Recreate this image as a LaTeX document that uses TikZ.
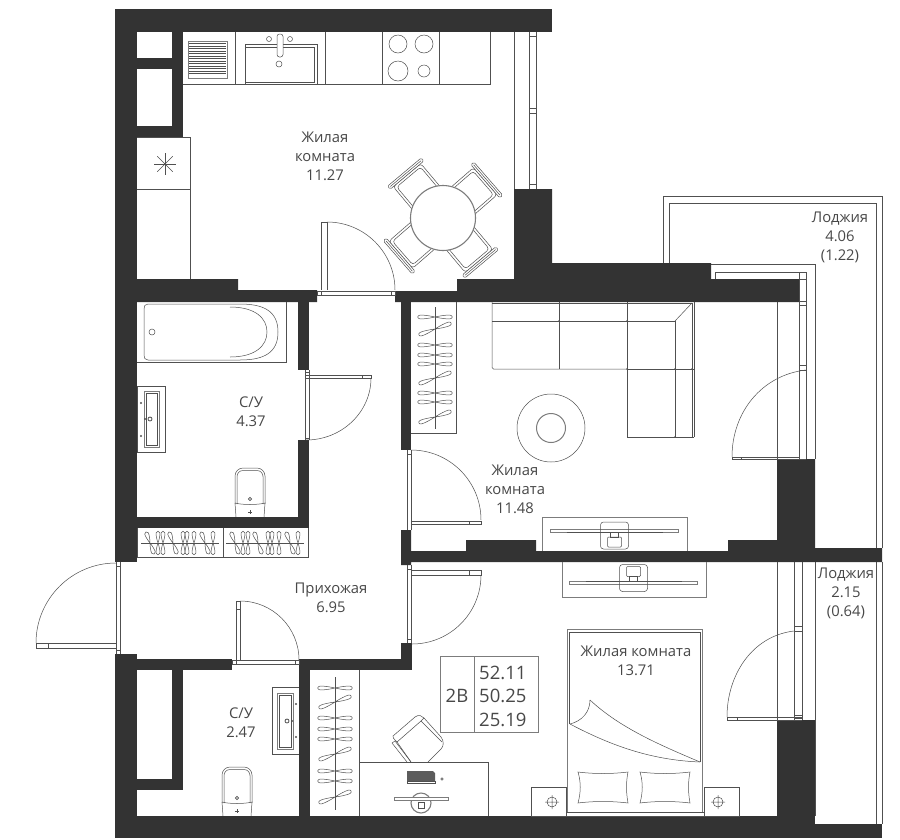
\documentclass[tikz,border=0pt]{standalone}
\usepackage{fontspec}
\setmainfont{Open Sans}
\definecolor{wallc}{HTML}{333333}
\definecolor{linec}{HTML}{505050}
\definecolor{textc}{HTML}{484848}
\tikzset{
  wall/.style={fill=wallc,draw=none},
  thin line/.style={draw=linec,line width=0.5pt},
  soft/.style={draw=linec!75,line width=0.7pt},
  lbl/.style={text=textc,font=\fontsize{14.8}{19}\selectfont,align=center,inner sep=0pt},
  info/.style={text=textc,font=\fontsize{18.5}{23.5}\selectfont,align=left,inner sep=0pt}
}
\newcommand\hgr[4]{%
  \draw[thin line,shift={(#1,#2)},rotate=#3,xscale=#4]
    (0,0) .. controls (-5,-1.2) and (-12,-2.2) .. (-15,-1.9) .. controls (-18,-1.4) and (-18,1.4) .. (-15,1.9) .. controls (-12,2.2) and (-5,1.2) .. (0,0)
    .. controls (5,1.2) and (12,2.2) .. (15,1.9) .. controls (18,1.4) and (18,-1.4) .. (15,-1.9) .. controls (12,-2.2) and (5,-1.2) .. (0,0) -- cycle;}
\newcommand\chairb[1]{%
  \begin{scope}[shift={(443,218)},rotate=#1]
    \draw[thin line,rounded corners=3pt] (22,-18) -- (56,-18) -- (56,18) -- (22,18);
    \draw[thin line,rounded corners=3pt] (22,-15.5) -- (53.5,-15.5) -- (53.5,15.5) -- (22,15.5);
    \draw[thin line,fill=white,rounded corners=1.5pt] (56,-22) rectangle (60,22);
    \draw[thin line] (58,-20) -- (58,20);
  \end{scope}}
\newcommand\toiletb[2]{%
  \begin{scope}[shift={(#1,#2)}]
    \draw[thin line,rounded corners=8pt] (-15,36) -- (-15,0) -- (15,0) -- (15,36);
    \draw[thin line,rounded corners=6pt] (-13,36) -- (-13,2.5) -- (13,2.5) -- (13,36);
    \draw[thin line] (-15,35) .. controls (-8,37) and (8,37) .. (15,35) -- (14,49);
    \draw[thin line] (-15,35) -- (-14,49);
    \draw[thin line,line width=0.8pt] (0,31) circle (1.6);
    \draw[thin line,line width=0.8pt] (-2,44) -- (2,44) (0,42) -- (0,46);
  \end{scope}}
\newcommand\tvb[3]{%
  \begin{scope}[shift={(#1,#2)},yscale=#3]
    \draw[soft,fill=white] (-64,-1.4) rectangle (64,1.4);
    \draw[thin line] (-48,1.4) -- (48,1.4);
    \draw[thin line,rounded corners=3pt] (-14,-9) rectangle (14,18);
    \draw[thin line,rounded corners=1pt] (-7,6) rectangle (7,16);
    \draw[thin line] (-4,1.4) rectangle (4,6);
  \end{scope}}
\newcommand\pillow[2]{%
  \begin{scope}[shift={(#1,#2)}]
    \draw[thin line] (0,0) .. controls (16,2) and (34,2) .. (50,0) .. controls (48,10) and (48,20) .. (50,31) .. controls (34,29) and (16,29) .. (0,31) .. controls (3,20) and (3,10) .. (0,0) -- cycle;
  \end{scope}}
\newcommand\nightt[3]{%
  \draw[thin line] (#1,787) rectangle (#2,816);
  \draw[thin line] (#3,802) circle (5) (#3-7,802) -- (#3+7,802) (#3,795) -- (#3,809);}
\begin{document}
\begin{tikzpicture}[x=1pt,y=-1pt]
\useasboundingbox[fill=white] (0,0) rectangle (900,839);

% ---- loggias (behind walls)
\draw[thin line] (663,263) -- (663,196) -- (882,196) -- (882,548);
\draw[thin line] (669,263) -- (669,203) -- (876,203) -- (876,548);
\draw[thin line] (876,562) -- (876,824) (882,562) -- (882,824);
\draw[thin line] (711,264) -- (815,264) -- (815,459);
\draw[thin line] (715,279) -- (715,272) -- (806,272) -- (806,459);
\draw[thin line] (799,272) -- (799,459);
\draw[thin line] (799,279) -- (806,279) (799,305) -- (806,305) (799,301) -- (806,301) (799,365) -- (806,365) (799,370) -- (806,370);
\draw[thin line] (777,302) -- (777,459);
\draw[thin line] (815,562) -- (815,816);

% ---- walls
\fill[wall] (115,9) rectangle (552,32);
\fill[wall] (115,9) rectangle (137,562);
\fill[wall] (172,32) rectangle (183,137);
\fill[wall] (137,58) rectangle (172,69);
\fill[wall] (137,126) rectangle (183,137);
\fill[wall] (137,279) -- (238,279) -- (238,290) -- (317,290) -- (317,302) -- (137,302) -- cycle;
\fill[wall] (395,291) -- (395,302) -- (799,302) -- (799,279) -- (711,279) -- (711,263) -- (552,263) -- (552,189) -- (514,189) -- (514,279) -- (457,279) -- (457,291) -- cycle;
\fill[wall] (401,302) rectangle (411,450);
\fill[wall] (298,302) rectangle (309,370);
\fill[wall] (298,440) rectangle (309,528);
\fill[wall] (137,517) rectangle (309,528);
\fill[wall] (401,530) -- (411,530) -- (411,551) -- (466,551) -- (466,540) -- (536,540) -- (536,551) -- (728,551) -- (728,540) -- (777,540) -- (777,459) -- (815,459) -- (815,548) -- (882,548) -- (882,562) -- (411,562) -- (411,565) -- (401,565) -- cycle;
\fill[wall] (115,654) rectangle (137,838);
\fill[wall] (137,659) rectangle (232,670);
\fill[wall] (172,670) rectangle (183,790);
\fill[wall] (137,779) rectangle (183,790);
\fill[wall] (299,659) rectangle (412,670);
\fill[wall] (401,643) rectangle (412,670);
\fill[wall] (299,670) rectangle (310,816);
\fill[wall] (115,816) rectangle (815,838);
\fill[wall] (815,824) rectangle (882,838);
\fill[wall] (777,720) rectangle (815,816);

% ---- kitchen counter
\draw[thin line] (183,84.3) -- (490,84.3) -- (490,32);
\draw[thin line] (235,32) -- (235,84.3) (325,32) -- (325,84.3) (382,32) -- (382,84.3) (439,32) -- (439,84.3);
\draw[soft] (188,41) rectangle (227,78);
\foreach \yy in {43.5,46,...,73.5} \draw[thin line] (189,\yy) -- (226,\yy);
\draw[thin line] (245,84.3) -- (245,44) -- (317,44) -- (317,84.3);
\draw[thin line] (245,47) -- (314,47) -- (314,82) -- (245,82);
\draw[thin line,fill=white,rounded corners=2.5pt] (277,34) rectangle (283,57);
\draw[thin line] (269,39) circle (2.5) (290,39) circle (2.5) (279,64) circle (3);
\draw[thin line] (398,44) circle (9) (424,44) circle (9) (398,71) circle (10) (424,71) circle (6);
% kitchen window
\draw[thin line] (514,32) -- (514,189) (529,32) -- (529,189) (536,32) -- (536,189);
\draw[thin line] (529,36) -- (536,36) (529,108) -- (536,108) (529,113) -- (536,113) (529,184) -- (536,184);
% tall cupboard
\draw[thin line] (137,137) -- (190,137) -- (190,279) (137,189) -- (190,189);
\foreach \aa in {0,45,...,315} \draw[thin line] (165,164) -- ++(\aa:11);
\fill[linec] (165,164) circle (1.2);
% kitchen door
\draw[thin line] (321,290) -- (321,222) -- (327,222) -- (327,290);
\draw[thin line] (327,222) arc[start angle=-90,end angle=0,radius=68];
\draw[thin line] (317,291) rectangle (395,295);
\draw[thin line] (321,291) -- (321,295) (391,291) -- (391,295);
% dining group
\chairb{130}\chairb{41}\chairb{-50}\chairb{-139}
\draw[soft,fill=white,line width=1.1pt] (443,218) circle (32.5);

% ---- bathroom
\draw[thin line] (137,362) -- (286,362) -- (286,302);
\draw[thin line] (148,304) -- (240,304) .. controls (265,304) and (278,312) .. (278,332) .. controls (278,352) and (265,360) .. (240,360) -- (148,360) .. controls (145,360) and (144,358) .. (144,355) -- (144,309) .. controls (144,306) and (145,304) .. (148,304) -- cycle;
\draw[thin line] (230,307) .. controls (255,307) and (267,318) .. (267,332) .. controls (267,346) and (255,357) .. (230,357);
\draw[thin line] (152,332) circle (3);
\draw[thin line] (137,386) rectangle (165,452);
\draw[soft] (144,391) rectangle (159,447);
\draw[thin line] (146,393) rectangle (157,445);
\fill[linec] (141,403) circle (1.2) (141,436) circle (1.2) (145,419) circle (1.2);
\draw[thin line,line width=0.8pt] (150,419) circle (2);
\toiletb{250}{468}
% bathroom door
\draw[thin line] (305,370) -- (305,440) (309,370) -- (309,440) (305,438) -- (309,438) (305,372) -- (309,372);
\draw[thin line] (306,375) -- (371,375) -- (371,378) -- (306,378) (362,375) -- (362,378);
\draw[thin line] (371,378) .. controls (371,412) and (342,440) .. (306,440);
% wardrobes in hall
\draw[thin line] (137,528) -- (137,557) -- (308,557) -- (308,528) (223,528) -- (223,557);
\foreach \dx in {0,85}{
  \foreach \hx/\hr in {150/110,158/90,163/90,173/110,183/90,187/90,194/90,205/110,213/90}
    \hgr{\hx+\dx}{543}{\hr}{0.68};
  \draw[thin line] (141+\dx,543) -- (219+\dx,543);
}

% ---- living room
\draw[thin line] (411,433) -- (456,433) -- (456,302);
\foreach \yy/\rr in {317/0,329/20,345/0,355/0,364/0,378/20,393/0,402/0,417/20} \hgr{435}{\yy}{\rr}{1};
\draw[thin line] (435,307) -- (435,429);
% living door
\draw[thin line] (407,450) -- (407,530) (411,450) -- (411,530) (407,454) -- (411,454);
\draw[thin line] (411,521) -- (481,521) -- (481,524) -- (411,524) (469,521) -- (469,524);
\draw[thin line] (411,450) arc[start angle=-90,end angle=0,radius=70];
% sofa
\draw[thin line,rounded corners=1.5pt] (492,302) -- (492,369) -- (627,369);
\draw[thin line] (492,303) -- (692,303) (492,321) -- (675,321);
\draw[thin line] (559,302) -- (559,369) (627,302) -- (627,437) (675,321) -- (675,437) (692,303) -- (692,437) (694,302) -- (694,437);
\draw[thin line] (627,369) -- (694,369) (627,437) -- (694,437);
\draw[thin line] (675,321) -- (692,303);
\fill[linec] (559,321) circle (0.9) (627,321) circle (0.9) (627,369) circle (0.9) (675,369) circle (0.9) (675,437) circle (0.9) (692,369) circle (0.9);
% rug
\draw[thin line] (551,428) circle (34);
\draw[soft,line width=1pt] (551,428) circle (14.5);
% living TV
\draw[soft] (542,551) -- (542,517) -- (687,517) -- (687,551);
\tvb{614.5}{531}{1}
% balcony door (living)
\draw[thin line] (732,457) -- (799,457) (732,459) -- (806,459) (732,457) -- (732,459) (741,457) -- (741,459);
\draw[thin line] (732,457) .. controls (732,412) and (762,375) .. (806,370);

% ---- hall
\draw[thin line] (116,562) -- (116,654) (120,562) -- (120,654) (116,566) -- (120,566) (116,650) -- (120,650);
\draw[thin line] (36,643) rectangle (116,648) (48,643) -- (48,648);
\draw[thin line] (36,643) arc[start angle=180,end angle=270,radius=80];
\draw[thin line] (407,565) -- (407,643) (411,565) -- (411,643) (407,639) -- (411,639) (407,569) -- (411,569);
\draw[thin line] (411,570) -- (481,570) -- (481,575) -- (411,575) (469,570) -- (469,575);
\draw[thin line] (481,575) arc[start angle=0,end angle=90,radius=69];
% door to small bath
\draw[thin line] (236,660) -- (236,601) -- (240,601) -- (240,660) (236,609) -- (240,609);
\draw[thin line] (240,601) arc[start angle=-90,end angle=0,radius=59];
\draw[thin line] (232,660) rectangle (299,664) (236,660) -- (236,664) (295,660) -- (295,664);

% ---- small bath
\draw[thin line] (299,687) -- (272,687) -- (272,754) -- (299,754);
\draw[soft] (277,693) rectangle (293,749);
\draw[thin line] (279,695) rectangle (291,747);
\fill[linec] (296,704) circle (1.2) (296,737) circle (1.2) (292,721) circle (1.2);
\draw[thin line,line width=0.8pt] (287,721) circle (2);
\toiletb{237}{767}

% ---- bedroom
\draw[thin line] (359,670) -- (359,816);
\foreach \yy/\rr in {688/0,702/20,718/0,729/0,739/0,754/20,771/0,781/0,797/20} \hgr{335}{\yy}{\rr}{1};
\draw[thin line] (335,677) -- (335,810);
% info table
\draw[soft] (440,656) rectangle (538,732) (474,656) -- (474,732);
% desk
\draw[thin line] (359,762) -- (488,762) -- (488,816);
\draw[thin line] (411,762) -- (397,742) .. controls (394,739) and (392,737) .. (393,736) -- (415,717) .. controls (419,714) and (422,716) .. (424,718) -- (441,737) .. controls (444,741) and (444,746) .. (441,749) -- (428,762);
\draw[thin line] (397,742) -- (421,721) -- (424,718);
\draw[thin line] (421,721) -- (442,742);
\draw[thin line] (392,743) -- (395,741) -- (411,762) (392,743) -- (407,762);
\fill[wallc!80] (407,771) -- (433,771) -- (435,773) -- (435,781) -- (407,781) -- cycle;
\draw[thin line] (407,781) rectangle (435,783);
\draw[thin line] (442,779) circle (1.3);
\draw[soft,line width=1.1pt] (421,803) circle (10);
\draw[soft,fill=white] (394,797) rectangle (448,800);
\draw[thin line] (418,802) rectangle (424,808);
% bedroom TV
\draw[soft] (562,562) -- (562,597) -- (706,597) -- (706,562);
\tvb{633.5}{582.5}{-1}
% balcony door (bedroom)
\draw[thin line] (777,562) -- (777,720) (794,562) -- (794,720) (802,562) -- (802,720);
\draw[thin line] (794,626) -- (802,626) (794,631) -- (802,631) (794,715) -- (802,715) (794,718) -- (802,718);
\draw[thin line] (727,717) -- (802,717) (727,720) -- (802,720) (727,717) -- (727,720) (737,717) -- (737,720);
\draw[thin line] (727,717) .. controls (727,675) and (752,636) .. (794,631);
% bed
\draw[soft] (567,812) -- (567,629) -- (702,629) -- (702,812);
\draw[thin line] (569.5,724) -- (569.5,632) -- (700,632) -- (700,762);
\draw[thin line] (566,812) rectangle (704,816);
\draw[thin line] (590,700) .. controls (620,728) and (660,745) .. (700,762);
\draw[thin line] (570,724) .. controls (610,745) and (650,760) .. (700,762);
\draw[thin line] (570,724) .. controls (582,721) and (590,712) .. (590,700);
\pillow{578}{772}\pillow{640}{772}
\nightt{531}{566}{552}
\nightt{704}{739}{718}

% ---- labels
\node[lbl] (kitchen) at (325,156) {Жилая\\комната\\11.27};
\node[lbl] (bath) at (251,411.5) {С/У\\4.37};
\node[lbl] (living) at (515,489) {Жилая\\комната\\11.48};
\node[lbl] (logone) at (840,237) {Лоджия\\4.06\\(1.22)};
\node[lbl] (hall) at (331,597.5) {Прихожая\\6.95};
\node[lbl] (smallbath) at (241,722.5) {С/У\\2.47};
\node[lbl] (bedroom) at (636,660.5) {Жилая комната\\13.71};
\node[lbl] (logtwo) at (846,593) {Лоджия\\2.15\\(0.64)};
\node[info] (typecode) at (457,696) {2В};
\node[info,anchor=west] (areas) at (479,696) {52.11\\50.25\\25.19};
\end{tikzpicture}
\end{document}
